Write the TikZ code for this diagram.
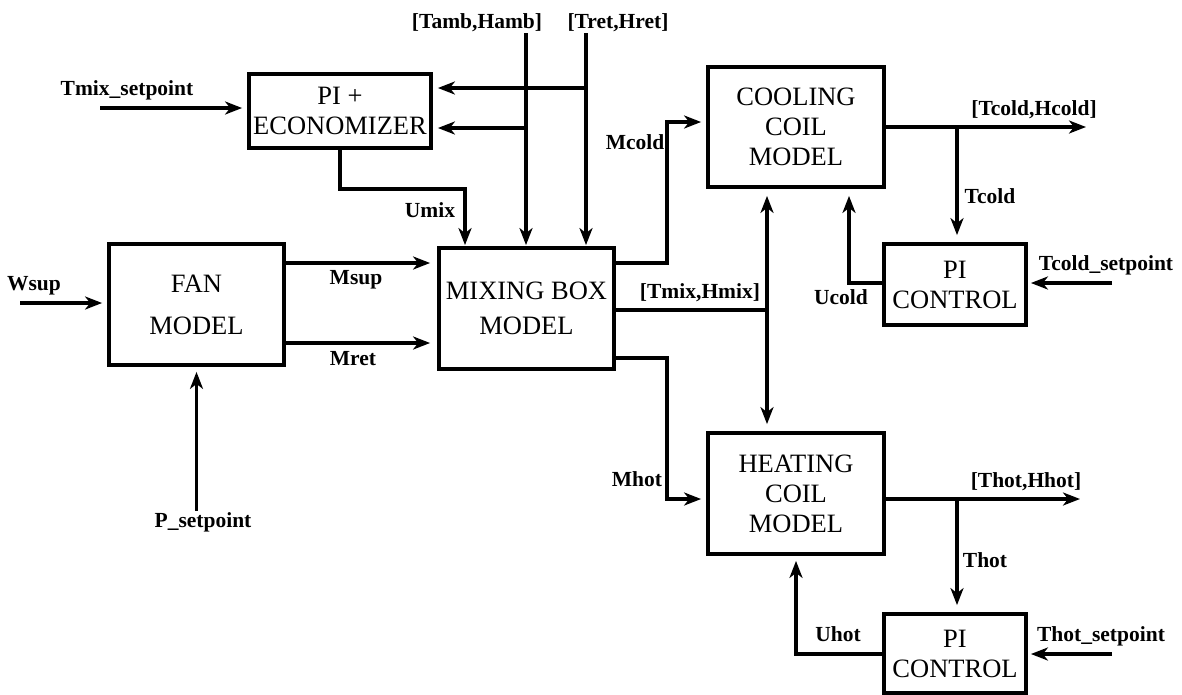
\documentclass[tikz,border=0pt]{standalone}
\usepackage{fontspec}
\setmainfont{Liberation Serif}
\usetikzlibrary{arrows.meta}

\begin{document}
\begin{tikzpicture}[x=1pt,y=-1pt,line width=3.8pt,
        blk/.style={draw,inner sep=0pt,align=center,font=\fontsize{26.5}{30}\selectfont},
        lbl/.style={inner sep=0pt,text height=15pt,text depth=4pt,font=\bfseries\fontsize{21.5}{24}\selectfont},
        arr/.style={-{Stealth[length=17pt,width=13pt,inset=5pt]},shorten >=5pt}]
        \useasboundingbox (0,0) rectangle (1182,694);
        % blocks
        \node[blk,minimum width=182pt,minimum height=74pt] (econ) at (340,111) {PI +\\ECONOMIZER};
        \node[blk,minimum width=175pt,minimum height=121pt] (fan) at (196.5,304.5) {FAN\\[12pt]MODEL};
        \node[blk,minimum width=175pt,minimum height=121pt] (mix) at (526.5,308.5) {MIXING BOX\\[5pt]MODEL};
        \node[blk,minimum width=176pt,minimum height=120pt] (cool) at (796,127) {COOLING\\COIL\\MODEL};
        \node[blk,minimum width=176pt,minimum height=121pt] (heat) at (796,493.5) {HEATING\\COIL\\MODEL};
        \node[blk,minimum width=142pt,minimum height=81pt] (picold) at (955,284.5) {PI\\CONTROL};
        \node[blk,minimum width=142pt,minimum height=79pt] (pihot) at (955,653.5) {PI\\CONTROL};

        % lecter
        \node[lbl] (tmixsp) at (127,90) {Tmix\_setpoint};
        \node[lbl] (tamb) at (477,23) {[Tamb,Hamb]};
        \node[lbl] (tret) at (618,23) {[Tret,Hret]};
        \node[lbl] (umix) at (430,212) {Umix};
        \node[lbl] (wsup) at (34,285) {Wsup};
        \node[lbl] (msup) at (356,279) {Msup};
        \node[lbl] (mret) at (353,360) {Mret};
        \node[lbl] (psp) at (203,522) {P\_setpoint};
        \node[lbl] (mcold) at (635,144) {Mcold};
        \node[lbl] (tmixhmix) at (700,293) {[Tmix,Hmix]};
        \node[lbl] (mhot) at (637,481) {Mhot};
        \node[lbl] (tcoldhcold) at (1034,110) {[Tcold,Hcold]};
        \node[lbl] (tcold) at (990,198) {Tcold};
        \node[lbl] (ucold) at (841,299) {Ucold};
        \node[lbl] (tcoldsplbl) at (1106,265) {Tcold\_setpoint};
        \node[lbl] (thothhot) at (1026,482) {[Thot,Hhot]};
        \node[lbl] (thot) at (985,562) {Thot};
        \node[lbl] (uhot) at (838,636) {Uhot};
        \node[lbl] (thotsplbl) at (1101,636) {Thot\_setpoint};

        % points
        \coordinate (tmixin) at (100,108);
        \coordinate (tambtop) at (526,33);
        \coordinate (trettop) at (586,33);
        \coordinate (tambbr) at (526,128);
        \coordinate (tretbr) at (586,88);
        \coordinate (umixc) at (465,189);
        \coordinate (wsupin) at (20,303);
        \coordinate (msupy) at (0,263);
        \coordinate (mrety) at (0,343);
        \coordinate (mhoty) at (0,358);
        \coordinate (tmixy) at (0,310);
        \coordinate (mcoldc) at (667,122);
        \coordinate (mhotc) at (667,499);
        \coordinate (tmixc) at (767,310);
        \coordinate (coldout) at (1091,127);
        \coordinate (tcoldbr) at (957,127);
        \coordinate (ucoldc) at (849,283);
        \coordinate (tcoldsp) at (1112,283);
        \coordinate (hotout) at (1085,499);
        \coordinate (thotbr) at (957,499);
        \coordinate (thotsp) at (1112,654);

        % line
        \draw[arr] (tmixin) -- (tmixin -| econ.west);
        \draw[arr,shorten >=1pt] (tambtop) -- (tambtop |- mix.north);
        \draw[arr,shorten >=1pt] (trettop) -- (trettop |- mix.north);
        \draw[arr] (tambbr) -- (tambbr -| econ.east);
        \draw[arr] (tretbr) -- (tretbr -| econ.east);
        \draw[arr,shorten >=1pt] (econ.south) |- (umixc) -- (umixc |- mix.north);
        \draw[arr] (wsupin) -- (wsupin -| fan.west);
        \draw[arr,shorten >=7pt] (fan.east |- msupy) -- (mix.west |- msupy);
        \draw[arr,shorten >=7pt] (fan.east |- mrety) -- (mix.west |- mrety);
        \draw[arr] (psp.north -| fan.south) -- (fan.south);
        \draw[arr] (mix.east |- msupy) -| (mcoldc) -- (mcoldc -| cool.west);
        \draw[arr] (mix.east |- mhoty) -| (mhotc) -- (mhotc -| heat.west);
        \draw (mix.east |- tmixy) -- (tmixc);
        \draw[arr,shorten >=7pt] (tmixc) -- (tmixc |- cool.south);
        \draw[arr,shorten >=7pt] (tmixc) -- (tmixc |- heat.north);
        \draw[arr] (cool.east |- coldout) -- (coldout);
        \draw[arr,shorten >=7pt] (tcoldbr) -- (tcoldbr |- picold.north);
        \draw[arr,shorten >=7pt] (picold.west |- ucoldc) -- (ucoldc) -- (ucoldc |- cool.south);
        \draw[arr,shorten >=3pt] (tcoldsp) -- (tcoldsp -| picold.east);
        \draw[arr] (heat.east |- hotout) -- (hotout);
        \draw[arr,shorten >=7pt] (thotbr) -- (thotbr |- pihot.north);
        \draw[arr] (pihot.west |- thotsp) -| (heat.south);
        \draw[arr,shorten >=3pt] (thotsp) -- (thotsp -| pihot.east);
    \end{tikzpicture}
\end{document}
